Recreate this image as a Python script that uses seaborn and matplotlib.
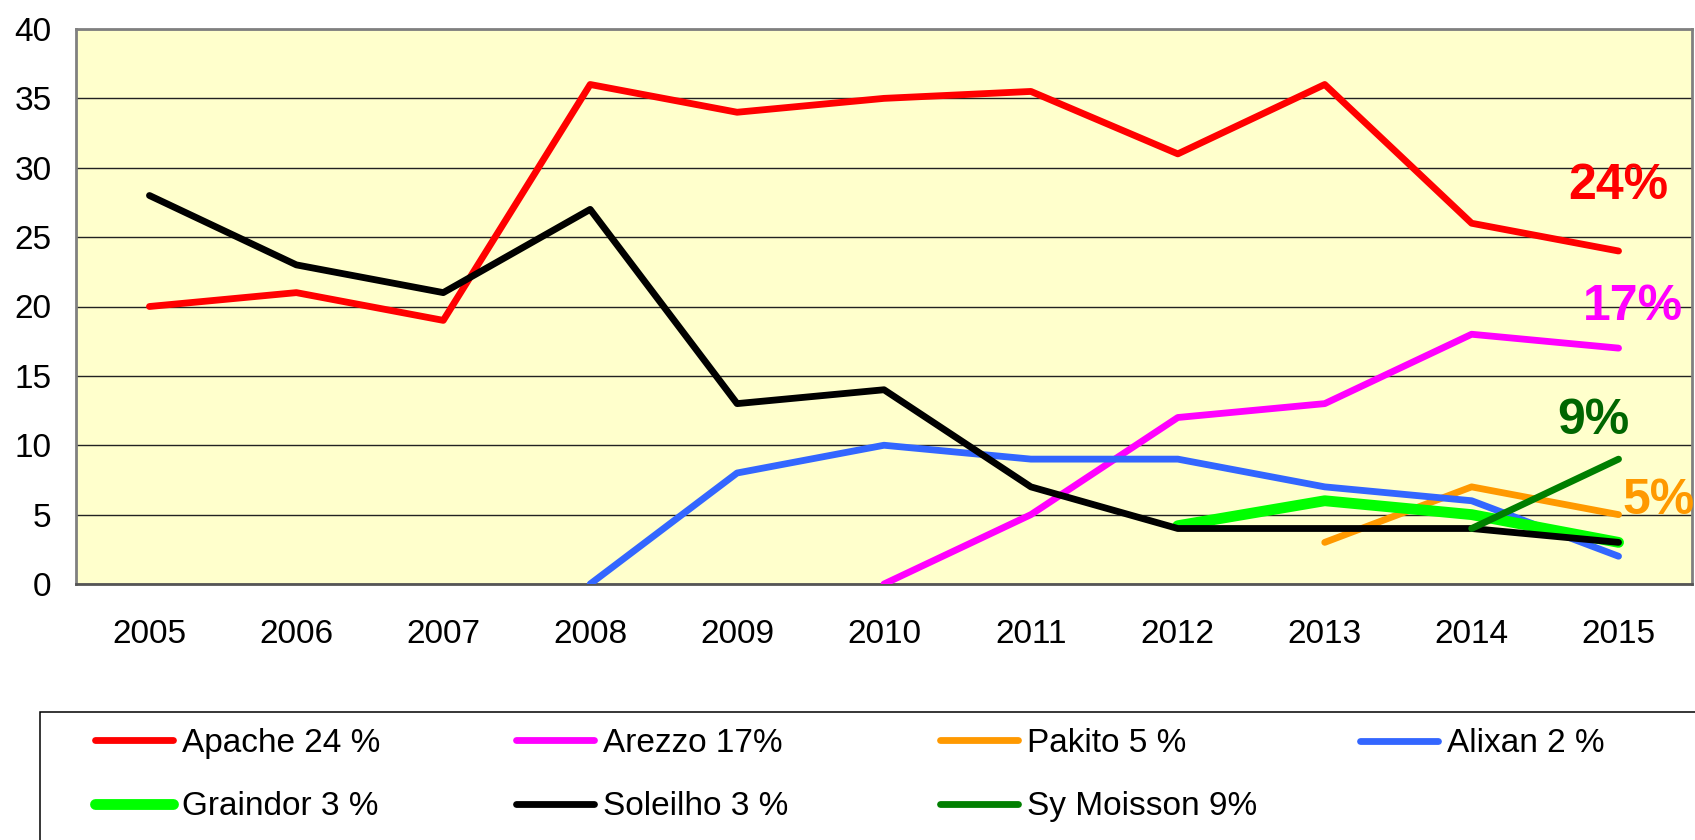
import numpy as np
import pandas as pd
import matplotlib
matplotlib.use("Agg")
import matplotlib.pyplot as plt
import seaborn as sns
from matplotlib.patches import Rectangle
from matplotlib.lines import Line2D

# Données
years = ['2005', '2006', '2007', '2008', '2009', '2010', '2011', '2012', '2013', '2014', '2015']
apache = [20, 21, 19, 36, 34, 35, 35.5, 31, 36, 26, 24]
arezzo = [None, None, None, None, None, 0, 5, 12, 13, 18, 17]
pakito = [None, None, None, None, None, None, None, None, 3, 7, 5]
alixan = [None, None, None, 0, 8, 10, 9, 9, 7, 6, 2]
graindor = [None, None, None, None, None, None, None, 4.2, 6, 5, 3]
soleilho = [28, 23, 21, 27, 13, 14, 7, 4, 4, 4, 3]
sy_moisson = [None, None, None, None, None, None, None, None, None, 4, 9]

names = ['Apache 24 %', 'Arezzo 17%', 'Pakito 5 %', 'Alixan 2 %',
         'Graindor 3 %', 'Soleilho 3 %', 'Sy Moisson 9%']
colors = ['#FF0000', '#FF00FF', '#FF9900', '#3366FF', '#00FF00', '#000000', '#007F00']
widths = [4.9, 4.9, 4.9, 4.9, 7.8, 4.9, 4.9]

end_labels = ['24%', '17%', '9%', '5%']
end_colors = ['#FF0000', '#FF00FF', '#006600', '#FF9900']
end_pos = [(10.0, 28.7), (10.1, 20.0), (9.83, 11.75), (10.27, 5.95)]

# tableau long
wide = pd.DataFrame({'x': np.arange(len(years))})
for n, vals in zip(names, [apache, arezzo, pakito, alixan, graindor, soleilho, sy_moisson]):
    wide[n] = pd.Series(vals, dtype=float)
df = wide.melt(id_vars='x', var_name='serie', value_name='valeur').dropna()

sns.set_style("white")
plt.rcParams['font.family'] = ['Liberation Sans', 'DejaVu Sans']
plt.rcParams['text.color'] = 'black'
plt.rcParams['xtick.color'] = 'black'
plt.rcParams['ytick.color'] = 'black'

fig = plt.figure(figsize=(16.95, 8.4), dpi=100)
ax = fig.add_axes([76 / 1695, 1 - 584 / 840, (1692 - 76) / 1695, (584 - 29) / 840])
ax.set_facecolor('#FFFFCC')

for n, c, w in zip(names, colors, widths):
    sub = df[df['serie'] == n]
    sns.lineplot(data=sub, x='x', y='valeur', ax=ax, color=c, linewidth=w,
                 estimator=None, sort=False, legend=False,
                 solid_capstyle='round', solid_joinstyle='round', zorder=3)

for t, c, (px, py) in zip(end_labels, end_colors, end_pos):
    ax.text(px, py, t, color=c, fontsize=36, fontweight='bold', ha='center', va='center', zorder=4)

ax.set_xlim(-0.5, len(years) - 0.5)
ax.set_ylim(0, 40)
ax.set_yticks(np.arange(0, 41, 5))
ax.set_xticks(np.arange(-0.5, len(years), 1.0))
ax.set_xticklabels([])
ax.set_xticks(np.arange(len(years)), minor=True)
ax.set_xticklabels(years, minor=True)
ax.tick_params(axis='x', which='major', direction='out', length=6.5, width=1, color='black')
ax.tick_params(axis='x', which='minor', length=0, pad=25, labelsize=24, labelcolor='black')
ax.tick_params(axis='y', direction='out', length=6.5, width=1, color='black', pad=11,
               labelsize=24, labelcolor='black')
ax.yaxis.grid(True, color='#222222', linewidth=1.0)
ax.set_axisbelow(True)
ax.set_xlabel('')
ax.set_ylabel('')
for s in ax.spines.values():
    s.set_color('#808080')
    s.set_linewidth(2)
ax.spines['bottom'].set_color('#555555')

# cadre de la légende
fig.patches.append(Rectangle((39.5 / 1695, -0.1), 1.2, 0.1 + 1 - 711.7 / 840,
                             transform=fig.transFigure, facecolor='white',
                             edgecolor='black', linewidth=1.1, zorder=0))

handles = [Line2D([], [], color=c, linewidth=w, solid_capstyle='round') for c, w in zip(colors, widths)]
col_x = [95, 516, 940, 1360]
cols = [[0, 4], [1, 5], [2, 6], [3]]
for cx, idx in zip(col_x, cols):
    cy = 775 if len(idx) == 2 else 744
    leg = fig.legend([handles[i] for i in idx], [names[i] for i in idx],
                     loc='center left', bbox_to_anchor=(cx / 1695, 1 - cy / 840),
                     frameon=False, fontsize=24, handlelength=2.35, handletextpad=0.27,
                     labelspacing=0.98, borderpad=0, borderaxespad=0)
    for t in leg.get_texts():
        t.set_color('black')

fig.savefig('out.png', dpi=100)
